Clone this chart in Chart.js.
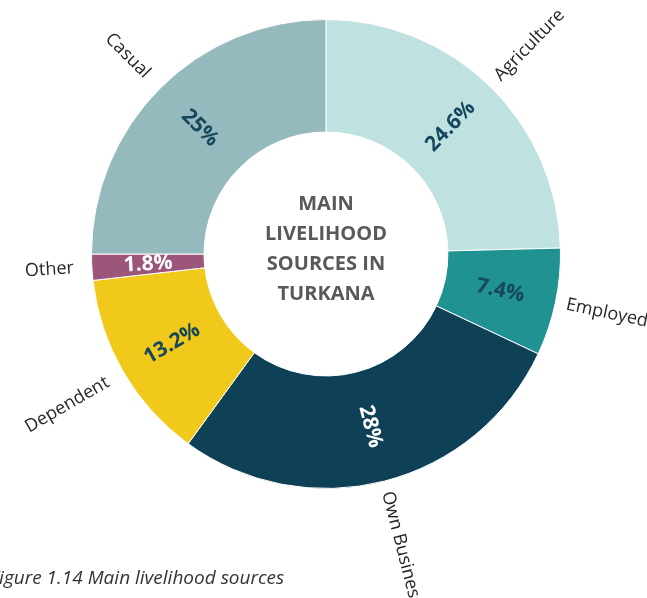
<!DOCTYPE html>
<html lang="en">
<head>
    <meta charset="UTF-8">
    <title>Main livelihood sources in Turkana</title>
    <script src="https://cdn.jsdelivr.net/npm/chart.js@4.4.1/dist/chart.umd.min.js"></script>
    <style>
        body {
            margin: 0;
            background-color: #fff;
            font-family: 'Open Sans', sans-serif;
            overflow: hidden;
        }
        .chart-container {
            position: relative;
            width: 647px;
            height: 598px;
        }
        .caption {
            position: absolute;
            left: -10px;
            top: 564px;
            font-style: italic;
            font-size: 19px;
            color: #333;
            white-space: nowrap;
        }
    </style>
</head>
<body>
    <div class="chart-container">
        <canvas id="livelihood"></canvas>
        <div class="caption">Figure 1.14 Main livelihood sources</div>
    </div>

    <script>
        // data
        const categories = ['Agriculture', 'Employed', 'Own Business', 'Dependent', 'Other', 'Casual'];
        const shares = [24.6, 7.4, 28, 13.2, 1.8, 25];
        const sliceColors = ['#bfe2e1', '#209291', '#0f4156', '#f1c91a', '#9c5679', '#95babd'];
        const valueColors = ['#16465d', '#16465d', '#ffffff', '#16465d', '#ffffff', '#16465d'];
        const centerTitle = ['MAIN', 'LIVELIHOOD', 'SOURCES IN', 'TURKANA'];

        // rotate so text runs along the radius, flipped on the left half
        function radialAngle(a) {
            return Math.cos(a) < 0 ? a + Math.PI : a;
        }

        const labelPlugin = {
            id: 'ringLabels',
            afterDraw(chart) {
                const ctx = chart.ctx;
                const meta = chart.getDatasetMeta(0);
                meta.data.forEach((arc, i) => {
                    const mid = (arc.startAngle + arc.endAngle) / 2;
                    const rot = radialAngle(mid);
                    const left = Math.cos(mid) < 0;

                    // value inside the ring
                    const rIn = (arc.innerRadius + arc.outerRadius) / 2;
                    ctx.save();
                    ctx.translate(arc.x + Math.cos(mid) * rIn, arc.y + Math.sin(mid) * rIn);
                    ctx.rotate(rot);
                    ctx.font = 'bold 21px "Open Sans"';
                    ctx.fillStyle = valueColors[i];
                    ctx.textAlign = 'center';
                    ctx.textBaseline = 'middle';
                    ctx.fillText(shares[i] + '%', 0, 0);
                    ctx.restore();

                    // category name outside
                    const rOut = arc.outerRadius + (left ? 18 : 11);
                    ctx.save();
                    ctx.translate(arc.x + Math.cos(mid) * rOut, arc.y + Math.sin(mid) * rOut);
                    ctx.rotate(rot);
                    ctx.font = '18px "Open Sans"';
                    ctx.fillStyle = '#262626';
                    ctx.textAlign = left ? 'right' : 'left';
                    ctx.textBaseline = 'middle';
                    ctx.fillText(categories[i], 0, 0);
                    ctx.restore();
                });

                // title in the hole
                const arc0 = meta.data[0];
                ctx.save();
                ctx.font = 'bold 20px "Open Sans"';
                ctx.fillStyle = '#595959';
                ctx.textAlign = 'center';
                ctx.textBaseline = 'middle';
                centerTitle.forEach((line, k) => {
                    ctx.fillText(line, arc0.x, arc0.y - 50 + k * 30);
                });
                ctx.restore();
            }
        };

        const ctx = document.getElementById('livelihood').getContext('2d');
        new Chart(ctx, {
            type: 'doughnut',
            data: {
                labels: categories,
                datasets: [{
                    data: shares,
                    backgroundColor: sliceColors,
                    borderColor: '#ffffff',
                    borderWidth: 1,
                    hoverOffset: 0
                }]
            },
            options: {
                responsive: true,
                maintainAspectRatio: false,
                animation: false,
                cutout: '52%',
                layout: {
                    padding: { left: 91, right: 86, top: 19, bottom: 109 }
                },
                plugins: {
                    legend: { display: false },
                    tooltip: { enabled: false }
                }
            },
            plugins: [labelPlugin]
        });
    </script>
</body>
</html>
